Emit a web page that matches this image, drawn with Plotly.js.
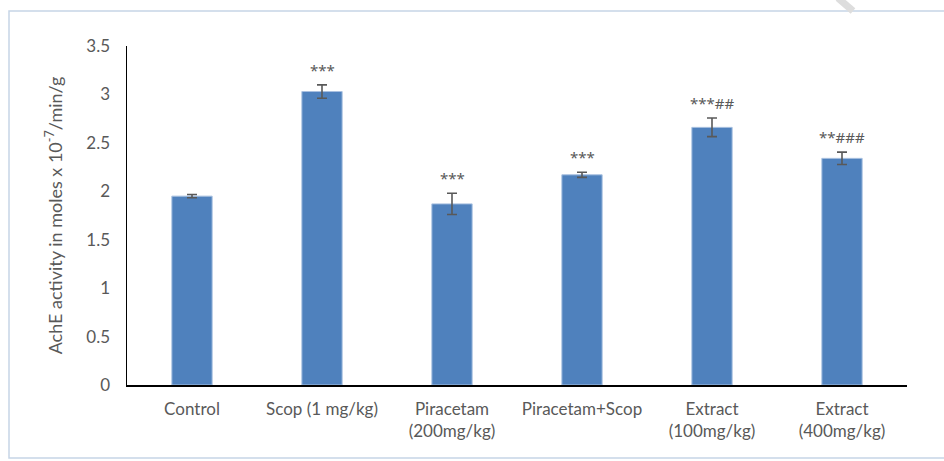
<!DOCTYPE html>
<html>
<head>
<meta charset="utf-8">
<script src="https://cdn.plot.ly/plotly-3.0.1.min.js"></script>
<style>html,body{margin:0;padding:0;background:#fff;}#chart{width:944px;height:461px;}</style>
</head>
<body>
<div id="chart"></div>
<script>
const categories = ["Control", "Scop (1 mg/kg)", "Piracetam<br>(200mg/kg)", "Piracetam+Scop", "Extract<br>(100mg/kg)", "Extract<br>(400mg/kg)"];
const meanValues = [1.95, 3.03, 1.87, 2.17, 2.66, 2.34];
const errorValues = [0.017, 0.069, 0.11, 0.026, 0.096, 0.064];
const significance = ["", "***", "***", "***", "***##", "**###"];
const yTicks = [0, 0.5, 1, 1.5, 2, 2.5, 3, 3.5];

const FONT = "Lato, 'Noto Sans', sans-serif";
const STARFONT = "'Noto Sans', sans-serif";
const TXT = "#595959";

const trace = {
  type: "bar",
  x: categories,
  y: meanValues,
  width: 0.31,
  marker: {color: "#4F81BD", line: {color: "#A9C1E0", width: 1}},
  error_y: {type: "data", array: errorValues, visible: true, color: "#595959", thickness: 1.6, width: 5},
  hoverinfo: "none"
};

const annotations = categories.map((c, i) => ({
  x: c, y: meanValues[i] + errorValues[i], xref: "x", yref: "y",
  text: significance[i], showarrow: false, yanchor: "bottom", yshift: 3,
  font: {family: STARFONT, size: 15, color: TXT}
})).filter(a => a.text);

const layout = {
  width: 944, height: 461,
  margin: {l: 127, r: 37, t: 46, b: 76},
  paper_bgcolor: "#fff", plot_bgcolor: "#fff",
  showlegend: false,
  font: {family: FONT, size: 17, color: TXT},
  bargap: 0.69,
  xaxis: {
    type: "category",
    showline: true, linecolor: "#000", linewidth: 1.5,
    ticks: "", showgrid: false, zeroline: false,
    ticklabelstandoff: 8,
    tickfont: {family: FONT, size: 17, color: TXT}
  },
  yaxis: {
    range: [0, 3.5], tickvals: yTicks, ticktext: yTicks.map(String),
    showline: true, linecolor: "#000", linewidth: 1.5,
    ticks: "", showgrid: false, zeroline: false,
    ticklabelstandoff: 12,
    tickfont: {family: FONT, size: 17, color: TXT},
    title: {text: "AchE activity in moles x 10<sup>-7</sup>/min/g", font: {family: FONT, size: 18, color: TXT}, standoff: 19}
  },
  annotations: annotations,
  shapes: [
    {type: "rect", xref: "paper", yref: "paper",
     x0: 0, x1: 1, y0: 0, y1: 1,
     line: {color: "#C6D5E6", width: 1.5}, fillcolor: "rgba(0,0,0,0)", layer: "below"},
    {type: "line", xref: "paper", yref: "paper",
     x0: 0, y0: 0, x1: 1, y1: 1,
     line: {color: "#DDDDDD", width: 7}}
  ]
};

// frame and corner mark positioned in pixel terms relative to the plot area
const plotW = 944 - 127 - 37, plotH = 461 - 46 - 76;
const px = v => (v - 127) / plotW;
const py = v => (385 - v) / plotH;
Object.assign(layout.shapes[0], {x0: px(9), x1: px(960), y0: py(458), y1: py(11)});
Object.assign(layout.shapes[1], {x0: px(838), x1: px(853), y0: py(-2), y1: py(11)});

Plotly.newPlot("chart", [trace], layout, {staticPlot: true, displayModeBar: false});
</script>
</body>
</html>
